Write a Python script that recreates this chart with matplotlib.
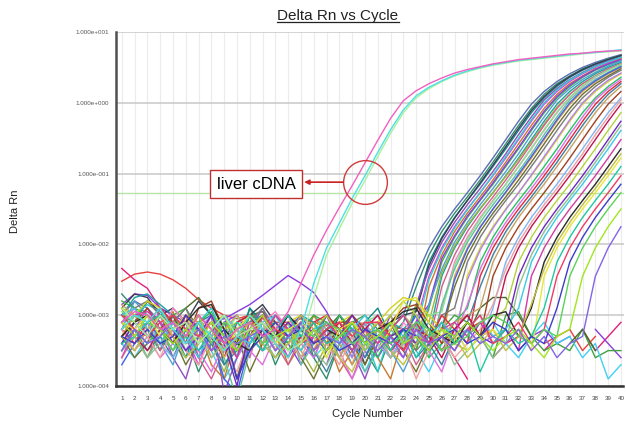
import numpy as np
import matplotlib.pyplot as plt
from matplotlib.lines import Line2D

plt.rcParams['font.family'] = ['Liberation Sans', 'DejaVu Sans']

nan = np.nan
cycles = list(range(1, 41))
y_ticks = [1e-4, 1e-3, 1e-2, 1e-1, 1e0, 1e1]
y_tick_labels = ['1.000e-004', '1.000e-003', '1.000e-002',
                 '1.000e-001', '1.000e+000', '1.000e+001']
threshold = 0.054

# log10(Delta Rn) per cycle
liver_log = [
    [-2.9, -3.1, -3.3, -3.0, -3.2, -3.1, -3.4, -3.2, -3.0, -3.3,
     -3.2, -3.1, -3.3, -3.5, -3.4, -2.75, -2.15, -1.78, -1.42, -1.1,
     -0.76, -0.43, -0.14, 0.07, 0.2, 0.3, 0.38, 0.44, 0.49, 0.53,
     0.56, 0.59, 0.61, 0.63, 0.65, 0.67, 0.69, 0.71, 0.72, 0.73],
    [-3.2, -3.0, -3.1, -2.9, -3.2, -3.4, -3.1, -3.3, -3.5, -3.3,
     -3.0, -3.2, -3.4, -3.6, -3.2, -2.55, -2.05, -1.7, -1.35, -1.03,
     -0.7, -0.38, -0.1, 0.1, 0.22, 0.31, 0.39, 0.45, 0.5, 0.54,
     0.57, 0.6, 0.62, 0.64, 0.66, 0.68, 0.7, 0.71, 0.73, 0.75],
    [-3.1, -2.95, -3.0, -3.2, -3.1, -3.3, -3.0, -3.2, -3.4, -3.2,
     -3.1, -3.3, -3.2, -2.95, -2.55, -2.15, -1.8, -1.48, -1.17, -0.85,
     -0.53, -0.22, 0.03, 0.17, 0.27, 0.35, 0.42, 0.47, 0.51, 0.55,
     0.58, 0.61, 0.63, 0.65, 0.67, 0.69, 0.7, 0.72, 0.73, 0.74],
]
liver_colors = ['#a8f0a0', '#50e0e0', '#f060c0']

sample_log = [
    [-3.0, -2.8, -2.9, -3.1, -3.3, -3.0, -3.2, -3.5, -3.3, -3.1,
     -3.0, -3.4, -3.2, -3.0, -3.3, -3.6, -3.2, -3.1, -3.4, -3.3,
     -3.5, -3.2, -3.0, -2.45, -2.05, -1.75, -1.5, -1.27, -1.03, -0.78,
     -0.52, -0.26, -0.02, 0.16, 0.3, 0.41, 0.5, 0.57, 0.63, 0.68],
    [-2.7, -2.9, -3.2, -3.5, -3.0, -3.3, -3.8, -3.4, -3.1, -3.6,
     -2.9, -3.2, -3.7, -3.3, -3.0, -3.6, -3.9, -3.4, -3.1, -3.5,
     -3.8, -3.3, -3.1, -2.6, -2.15, -1.82, -1.56, -1.33, -1.09, -0.84,
     -0.58, -0.32, -0.08, 0.12, 0.27, 0.38, 0.48, 0.55, 0.62, 0.67],
    [-3.4, -3.1, -2.8, -3.0, -3.2, -3.6, -3.1, -3.0, -3.7, -3.4,
     -2.9, -3.1, -3.5, -3.3, nan, -3.4, -3.0, -3.2, -3.6, -3.1,
     -2.9, -3.3, -3.5, -2.9, -2.25, -1.9, -1.62, -1.38, -1.15, -0.9,
     -0.65, -0.39, -0.14, 0.07, 0.23, 0.36, 0.46, 0.54, 0.6, 0.66],
    [-2.9, -2.7, -2.75, -3.0, -2.9, -3.1, -2.8, -3.0, -3.2, -3.4,
     -3.0, -2.85, -3.1, -3.3, -3.5, -3.2, -3.4, -3.0, -3.2, -3.7,
     -3.3, -3.1, -3.0, -2.95, -2.3, -1.92, -1.63, -1.38, -1.13, -0.88,
     -0.62, -0.36, -0.11, 0.09, 0.25, 0.37, 0.47, 0.55, 0.61, 0.67],
    [-3.5, -3.2, -2.9, -3.1, -3.6, -3.9, -3.3, -3.0, -4.1, -3.6,
     -3.2, -2.9, -3.3, -3.6, -3.3, nan, -3.7, -3.2, -3.5, -3.9,
     -3.4, -3.0, -3.4, -2.85, -2.35, -1.97, -1.69, -1.44, -1.21, -0.97,
     -0.72, -0.45, -0.2, 0.04, 0.2, 0.33, 0.43, 0.52, 0.59, 0.64],
    [-3.6, -3.2, -3.4, -2.9, -3.1, -3.3, -3.7, -3.2, -3.0, -3.5,
     -3.3, -3.0, -3.2, -3.6, -3.1, -3.3, nan, nan, -3.5, -3.2,
     -3.0, -3.4, -3.6, -3.1, -2.45, -2.05, -1.75, -1.5, -1.27, -1.03,
     -0.78, -0.52, -0.26, -0.02, 0.16, 0.3, 0.41, 0.5, 0.57, 0.63],
    [-3.1, -3.0, -2.85, -2.95, -3.2, -3.4, -3.1, -2.9, -3.3, -3.9,
     -3.2, -3.0, -3.3, -3.1, -3.4, -3.0, -3.2, -3.5, -3.1, -3.3,
     -3.8, -3.2, -3.0, -3.2, -2.5, -2.08, -1.77, -1.51, -1.27, -1.02,
     -0.76, -0.5, -0.24, 0.0, 0.18, 0.32, 0.42, 0.51, 0.58, 0.64],
    [-2.9, -3.3, -3.6, -3.2, -2.95, -3.4, -3.2, -3.7, -3.9, -3.3,
     -3.0, -3.5, -3.2, -3.7, -3.4, -3.0, -3.3, -3.8, -3.5, -3.2,
     -3.6, -3.9, -3.3, -3.5, -2.6, -2.15, -1.82, -1.56, -1.33, -1.09,
     -0.84, -0.58, -0.32, -0.08, 0.12, 0.27, 0.38, 0.48, 0.55, 0.62],
    [-2.8, -2.9, -3.0, -3.2, -3.0, -2.9, -3.3, -3.1, -3.5, -3.2,
     -3.0, -3.1, -3.4, -3.6, -3.2, -3.0, -3.1, -3.3, nan, -3.4,
     -3.1, -3.3, -3.2, -3.5, -2.9, -2.25, -1.9, -1.62, -1.38, -1.15,
     -0.9, -0.65, -0.39, -0.14, 0.07, 0.23, 0.36, 0.46, 0.54, 0.6],
    [-3.3, -3.5, -3.2, -3.0, -3.4, -3.1, -3.6, -3.3, -3.1, -3.0,
     -3.3, -3.5, -3.2, -3.4, -3.7, -3.3, -3.0, -3.4, -3.2, -3.1,
     -3.6, -3.3, -3.5, -3.1, -2.85, -2.2, -1.88, -1.6, -1.37, -1.13,
     -0.88, -0.63, -0.37, -0.12, 0.09, 0.25, 0.37, 0.47, 0.55, 0.61],
    [-3.2, -2.8, -3.0, -3.4, -3.7, -3.2, -3.0, -3.5, -3.3, -3.9,
     -3.4, -3.1, -3.5, -3.2, -3.6, -3.4, nan, -3.3, -3.7, -3.4,
     -3.1, -3.5, -3.8, -3.4, -2.85, -2.35, -1.97, -1.69, -1.44, -1.21,
     -0.97, -0.72, -0.45, -0.2, 0.04, 0.2, 0.33, 0.43, 0.52, 0.59],
    [-3.0, -2.75, -2.7, -2.85, -3.0, -3.2, -3.1, -3.3, -3.0, -3.2,
     -3.1, -3.0, -3.3, -3.2, -3.0, -3.1, -3.4, -3.2, -3.0, -3.3,
     -3.5, -3.1, -3.2, -3.0, -3.3, -2.45, -2.05, -1.75, -1.5, -1.27,
     -1.03, -0.78, -0.52, -0.26, -0.02, 0.16, 0.3, 0.41, 0.5, 0.57],
    [-3.5, -3.3, -3.0, -3.2, -3.5, -3.2, -3.0, -3.4, -3.8, -3.3,
     -3.1, -3.4, -3.0, -3.3, -3.5, -3.8, -3.4, -3.1, -3.3, -3.5,
     -3.2, -3.0, -3.4, -2.85, -3.1, -2.4, -2.02, -1.73, -1.49, -1.27,
     -1.04, -0.8, -0.55, -0.3, -0.06, 0.12, 0.27, 0.38, 0.47, 0.55],
    [-3.6, -3.3, -3.1, -3.5, -3.2, -3.0, -3.6, -3.9, -3.5, -3.2,
     -3.6, -3.0, -3.4, -3.7, -3.3, -3.5, -3.2, -3.6, -3.9, -3.4,
     -3.2, -3.5, -3.3, -3.7, -3.4, -2.6, -2.15, -1.82, -1.56, -1.33,
     -1.09, -0.84, -0.58, -0.32, -0.08, 0.12, 0.27, 0.38, 0.48, 0.55],
    [-3.2, -3.0, -3.1, -3.3, -2.9, -3.1, -3.4, -3.0, -3.2, -3.5,
     -3.2, -3.1, -2.95, -3.2, -3.4, -3.1, -3.5, -3.3, -3.0, -3.2,
     -3.4, -3.6, -3.1, -3.3, -3.5, -2.9, -2.25, -1.9, -1.62, -1.38,
     -1.15, -0.9, -0.65, -0.39, -0.14, 0.07, 0.23, 0.36, 0.46, 0.54],
    [-2.95, -3.1, -3.3, -3.1, -3.0, -3.5, -3.2, -3.1, -3.3, -3.0,
     -3.4, -3.3, -3.0, -3.2, -3.3, -3.1, -3.6, -3.2, -3.4, -3.1,
     -3.0, -3.3, -3.4, -3.2, -3.0, -2.95, -2.3, -1.93, -1.64, -1.39,
     -1.15, -0.9, -0.64, -0.38, -0.13, 0.08, 0.24, 0.37, 0.46, 0.54],
    [-3.0, -3.2, -3.6, -3.3, -3.5, -3.1, -3.3, -3.0, -3.6, -4.2,
     -3.5, -3.2, -3.4, -3.1, -3.7, -3.4, -3.2, -3.6, -3.3, -3.8,
     -3.5, -3.2, -3.4, -3.1, -3.6, -2.85, -2.35, -1.97, -1.69, -1.44,
     -1.21, -0.97, -0.72, -0.45, -0.2, 0.04, 0.2, 0.33, 0.43, 0.52],
    [-3.3, -3.0, -3.2, -3.4, -3.2, -3.0, -3.1, -3.6, -3.4, -3.1,
     -3.0, -3.2, -3.5, -3.1, -3.3, -3.5, -3.1, -3.4, -3.7, -3.2,
     -3.3, -3.1, -3.5, -3.3, -3.1, -3.4, -2.45, -2.05, -1.75, -1.5,
     -1.27, -1.03, -0.78, -0.52, -0.26, -0.02, 0.16, 0.3, 0.41, 0.5],
    [-3.7, -3.4, -3.1, -3.3, -3.0, -3.2, -3.5, -3.3, -3.9, -4.1,
     -3.4, -3.1, -3.3, -3.2, -3.0, -3.3, -3.5, -3.2, -3.4, -3.6,
     -3.2, -3.5, -3.3, -3.0, -3.4, -3.2, -2.5, -2.07, -1.76, -1.5,
     -1.26, -1.01, -0.76, -0.5, -0.24, 0.0, 0.18, 0.31, 0.42, 0.51],
    [-3.3, -3.6, -3.4, -3.0, -3.3, -3.7, -3.4, -3.2, -3.5, -3.3,
     -3.8, -3.4, -3.1, -3.3, -3.6, -3.9, -3.5, -3.2, -3.4, -3.7,
     -3.3, -3.1, -3.5, -3.8, -3.4, -3.2, -2.6, -2.15, -1.82, -1.56,
     -1.33, -1.09, -0.84, -0.58, -0.32, -0.08, 0.12, 0.27, 0.38, 0.48],
    [-3.1, -2.9, -2.8, -3.0, -3.1, -2.9, -3.2, -3.4, -3.1, -3.3,
     -3.1, -2.9, -3.2, -3.4, -3.1, -3.3, -3.0, -3.2, -3.5, -3.3,
     -3.1, -3.4, -3.2, -3.5, -3.3, -3.0, -2.9, -2.25, -1.9, -1.62,
     -1.38, -1.15, -0.9, -0.65, -0.39, -0.14, 0.07, 0.23, 0.36, 0.46],
    [-2.9, -3.0, -2.8, -2.9, -3.2, -3.0, -3.3, -3.1, -3.0, -3.4,
     -3.2, -3.0, -3.3, -3.1, -3.0, -3.2, -3.4, -3.1, -3.0, -3.3,
     -3.1, -2.9, -2.75, -2.8, -3.0, -3.2, -3.4, -2.45, -2.05, -1.75,
     -1.5, -1.27, -1.03, -0.78, -0.52, -0.26, -0.02, 0.16, 0.3, 0.41],
    [-3.4, -3.2, -3.0, -3.1, -3.3, -3.5, -3.2, -3.0, -3.3, -3.6,
     -3.3, -3.5, -3.2, -3.0, -3.3, -3.4, -3.1, -3.3, -3.6, -3.2,
     -3.3, -3.5, -3.2, -3.4, -3.3, -3.1, -3.3, -2.5, -2.08, -1.77,
     -1.51, -1.27, -1.02, -0.76, -0.5, -0.24, 0.0, 0.18, 0.32, 0.42],
    [-3.0, -3.2, -3.4, -3.2, -3.0, -3.3, -3.1, -2.95, -3.3, -3.5,
     -3.0, -3.2, -3.1, -3.4, -3.2, -3.5, -3.3, -3.0, -3.2, -3.4,
     -3.6, -3.2, -3.0, -3.3, -3.6, -3.4, -3.1, -2.9, -2.25, -1.9,
     -1.62, -1.38, -1.15, -0.9, -0.65, -0.39, -0.14, 0.07, 0.23, 0.36],
    [-3.1, -2.9, -3.3, -3.6, -3.4, -3.2, -3.5, -3.8, -3.4, -3.2,
     -3.5, -3.7, -3.3, -3.0, -3.4, -3.6, -3.2, -3.5, -3.9, -3.5,
     -3.3, -3.6, -3.4, -3.2, -3.5, -3.8, -3.3, -2.85, -2.35, -1.97,
     -1.69, -1.44, -1.21, -0.97, -0.72, -0.45, -0.2, 0.04, 0.2, 0.33],
    [-3.2, -3.4, -3.1, -2.9, -3.1, -3.3, -3.0, -3.2, -3.5, -3.3,
     -3.1, -3.3, -3.0, -3.2, -3.4, -3.1, -3.0, -3.2, -3.1, -3.3,
     -3.2, -3.5, -3.3, -3.1, -3.4, -3.0, -3.2, -3.4, -2.45, -2.05,
     -1.75, -1.5, -1.27, -1.03, -0.78, -0.52, -0.26, -0.02, 0.16, 0.3],
    [-3.4, -3.2, -3.5, -3.3, -3.6, -3.2, -3.0, -3.4, -3.7, -3.5,
     -3.2, -3.4, -3.6, -3.3, -3.1, -3.5, -3.8, -3.4, -3.2, -3.6,
     -3.3, -3.5, -3.2, -3.6, -3.4, -3.7, -3.3, -3.1, -2.6, -2.15,
     -1.82, -1.56, -1.33, -1.09, -0.84, -0.58, -0.32, -0.08, 0.12, 0.27],
    [-2.85, -3.0, -3.2, -3.0, -3.3, -3.1, -3.3, -3.5, -3.2, -3.0,
     -3.2, -3.4, -3.1, -3.3, -3.0, -3.2, -3.4, -3.6, -3.2, -3.1,
     -3.4, -3.2, -3.0, -3.2, -3.5, -3.3, -3.1, -3.0, -2.9, -2.25,
     -1.9, -1.62, -1.38, -1.15, -0.9, -0.65, -0.39, -0.14, 0.07, 0.23],
    [-3.3, -3.1, -2.9, -3.2, -3.0, -3.4, -2.9, -2.8, -3.2, -3.9,
     -3.3, -3.0, -3.2, -3.5, -3.3, -3.1, -3.4, -3.2, -3.0, -3.2,
     -3.3, -3.1, -2.9, -2.85, -3.1, -3.4, -3.2, -3.0, -3.3, -2.45,
     -2.05, -1.75, -1.5, -1.27, -1.03, -0.78, -0.52, -0.26, -0.02, 0.16],
    [-3.5, -3.3, -3.1, -3.4, -3.6, -3.3, -3.1, -3.3, -3.0, -3.2,
     -3.5, -3.2, -3.0, -3.3, -3.1, -3.4, -3.2, -3.5, -3.3, -3.1,
     -3.4, -3.6, -3.3, -3.2, -3.5, -3.1, -3.3, -3.2, -3.4, -2.9,
     -2.25, -1.9, -1.62, -1.38, -1.15, -0.9, -0.65, -0.39, -0.14, 0.07],
    [-3.2, -3.5, -3.3, -3.6, -3.2, -3.5, -3.7, -3.3, -3.5, -3.8,
     -3.3, -3.1, -3.5, -3.3, -3.6, -3.2, -3.4, -3.7, -3.3, -3.5,
     -3.2, -3.6, -3.4, -3.9, -3.5, -3.3, -3.6, -3.4, -3.2, -2.85,
     -2.35, -1.97, -1.69, -1.44, -1.21, -0.97, -0.72, -0.45, -0.2, 0.04],
    [-3.1, -3.3, -3.5, -3.2, -3.4, -3.0, -3.2, -3.3, -3.6, -3.1,
     -3.0, -3.3, -3.2, -3.0, -3.2, -3.5, -3.3, -3.1, -3.4, -3.2,
     -3.0, -3.3, -3.5, -3.2, -3.3, -3.6, -3.2, -3.0, -3.3, -3.2,
     -2.45, -2.05, -1.75, -1.5, -1.27, -1.03, -0.78, -0.52, -0.26, -0.02],
    [-2.9, -3.1, -3.0, -3.3, -3.1, -3.2, -3.0, -3.4, -3.2, -3.1,
     -3.3, -3.1, -3.4, -3.2, -3.5, -3.2, -3.0, -3.3, -3.2, -3.5,
     -3.2, -3.0, -2.8, -3.0, -3.3, -3.2, -3.4, -3.5, -3.3, -3.1,
     -2.9, -2.25, -1.9, -1.62, -1.38, -1.15, -0.9, -0.65, -0.39, -0.14],
    [-3.4, -3.1, -3.3, -3.0, -3.2, -3.5, -3.3, -3.0, -3.4, -4.0,
     -3.2, -3.0, -3.3, -3.1, -3.3, -3.2, -3.5, -3.3, -3.0, -3.3,
     -3.5, -3.3, -3.2, -3.4, -3.2, -3.5, -3.3, -3.1, -3.3, -3.4,
     -3.2, -2.45, -2.05, -1.75, -1.5, -1.27, -1.03, -0.78, -0.52, -0.26],
    [-3.5, -3.3, -3.6, -3.4, -3.1, -3.4, -3.3, -3.6, -3.4, -3.2,
     -3.5, -3.3, -3.6, -3.4, -3.2, -3.5, -3.7, -3.4, -3.2, -3.5,
     -3.3, -3.6, -3.4, -3.2, -3.5, -3.3, -3.7, -3.5, -3.3, -3.6,
     -3.4, -2.6, -2.15, -1.82, -1.56, -1.33, -1.09, -0.84, -0.58, -0.32],
    [-3.0, -2.9, -3.2, -3.4, -3.1, -3.3, -3.6, -3.2, -3.0, -3.3,
     -3.4, -3.1, -3.0, -3.3, -3.5, -3.2, -3.1, -3.4, -3.2, -3.0,
     -3.3, -3.1, -3.4, -3.3, -3.1, -3.3, -3.5, -3.2, -3.0, -3.3,
     -3.2, -2.9, -2.25, -1.9, -1.62, -1.38, -1.15, -0.9, -0.65, -0.39],
    [-3.2, -3.0, -2.95, -3.1, -3.3, -3.0, -3.2, -3.5, -3.3, -3.6,
     -3.1, -3.3, -3.0, -3.2, -3.4, -3.3, -3.1, -3.3, -3.5, -3.2,
     -3.4, -3.2, -3.0, -3.3, -3.4, -3.2, -3.1, -3.3, -3.1, -3.4,
     -3.2, -3.5, -2.45, -2.05, -1.75, -1.5, -1.27, -1.03, -0.78, -0.52],
    [-3.3, -3.1, -3.0, -3.2, -3.4, -3.1, -2.9, -2.85, -3.2, -3.4,
     -3.5, -3.2, -3.3, -3.0, -3.2, -3.4, -3.2, -3.3, -3.1, -3.4,
     -3.2, -3.1, -2.95, -2.9, -3.2, -3.3, -3.4, -3.1, -3.3, -3.0,
     -2.95, -3.3, -2.9, -2.25, -1.9, -1.62, -1.38, -1.15, -0.9, -0.65],
    [-3.3, -3.5, -3.2, -3.0, -3.3, -3.6, -3.4, -3.2, -3.6, -3.3,
     -3.1, -3.4, -3.6, -3.4, -3.2, -3.5, -3.3, -3.6, -3.8, -3.4,
     -3.2, -3.5, -3.7, -3.4, -3.2, -3.5, -3.3, -3.6, -3.4, -3.2,
     -3.5, -3.3, -2.85, -2.35, -1.97, -1.69, -1.44, -1.21, -0.97, -0.72],
    [-3.1, -3.2, -3.0, -3.3, -3.1, -3.4, -3.2, -3.3, -3.5, -3.2,
     -3.0, -3.2, -3.4, -3.2, -3.1, -3.3, -3.6, -3.2, -3.1, -3.3,
     -3.5, -3.2, -2.8, -2.75, -3.1, -3.3, -3.2, -3.5, -3.3, -3.2,
     -3.4, -3.2, -3.5, -2.45, -2.05, -1.75, -1.5, -1.27, -1.03, -0.78],
    [-3.4, -3.3, -3.1, -3.0, -3.2, -3.3, -3.5, -3.2, -3.4, -3.1,
     -3.3, -3.5, -3.2, -3.0, -3.3, -3.1, -3.4, -3.3, -3.2, -3.4,
     -3.3, -3.5, -3.2, -3.6, -3.3, -3.1, -3.4, -3.2, -3.8, -3.4,
     -3.2, -3.4, -3.3, -2.9, -2.25, -1.9, -1.62, -1.38, -1.15, -0.9],
    [-3.0, -3.2, -3.3, -3.1, -3.0, -3.2, -3.3, -3.1, -3.4, -3.3,
     -3.2, -3.0, -3.2, -3.3, -3.1, -3.4, -3.2, -3.1, -3.3, -3.1,
     -3.1, -3.3, -3.5, -3.2, -3.4, -3.3, -3.5, -3.2, -3.0, -3.4,
     -3.3, -3.1, -3.4, -3.2, -2.45, -2.05, -1.75, -1.5, -1.27, -1.03],
    [-3.3, -3.4, -3.2, -3.4, -3.3, -3.0, -3.2, -3.4, -3.2, -3.9,
     -3.5, -3.3, -3.1, -3.3, -3.2, -3.4, -3.3, -3.5, -3.4, -3.2,
     -3.3, -3.4, -3.2, -3.3, -3.5, -3.3, -3.2, -3.4, -3.3, -3.1,
     -3.2, -3.5, -3.3, -3.4, -2.9, -2.25, -1.9, -1.62, -1.38, -1.15],
    [-3.2, -3.0, -3.1, -3.2, -3.5, -3.3, -3.1, -3.4, -3.1, -3.2,
     -3.1, -3.4, -3.3, -3.5, -3.2, -3.3, -3.1, -3.2, -3.4, -3.3,
     -3.2, -3.4, -3.3, -3.1, -3.2, -3.5, -3.4, -3.3, -3.1, -3.0,
     -3.1, -3.3, -3.4, -3.2, -3.3, -2.45, -2.05, -1.75, -1.5, -1.27],
    [-3.1, -3.3, -3.0, -3.2, -3.4, -3.2, -3.4, -3.1, -3.3, -3.5,
     -3.2, -3.0, -3.3, -3.2, -3.4, -3.2, -3.5, -3.3, -3.1, -3.4,
     -3.3, -3.1, -3.4, -3.3, -3.5, -3.2, -3.3, -3.1, -3.3, -3.5,
     -3.3, -3.2, -3.4, -3.6, -3.3, -3.2, -2.45, -2.05, -1.75, -1.5],
    [-3.5, -3.2, -3.4, -3.3, -3.1, -3.4, -3.2, -3.5, -3.3, -3.4,
     -3.3, -3.2, -3.5, -3.3, -3.1, -3.5, -3.3, -3.4, -3.2, -3.3,
     -3.5, -3.3, -3.6, -3.2, -3.4, -3.3, -3.5, -3.2, -3.4, -3.3,
     -3.4, -3.2, -3.5, -3.3, -3.6, -3.4, -3.3, -2.45, -2.05, -1.75],
]
sample_colors = ['#5a6eb4', '#2f8f6f', '#108a8a', '#3c3c50', '#9050c0',
                 '#e040e0', '#30d0d0', '#c87830', '#3cb43c', '#8c3ce6',
                 '#50a0d0', '#1ea0a0', '#a0b43c', '#d06090', '#ff82c8',
                 '#82e68c', '#60c0a0', '#e6963c', '#3c64e6', '#707030',
                 '#7a7a7a', '#d2d21e', '#b482f0', '#28c064', '#e070e0',
                 '#e02840', '#4080a0', '#c8a064', '#a04020', '#82b4f0',
                 '#f0a0a0', '#c01450', '#b4d23c', '#6e28c0', '#90c090',
                 '#3cc8e6', '#d23ca0', '#2a2a2a', '#c0c040', '#e6e63c',
                 '#1ec8a0', '#f03c64', '#3c3cc8', '#5ad25a', '#a0e61e',
                 '#8264e6']

# wells that never amplify
control_log = [
    [-2.52, -2.42, -2.39, -2.42, -2.5, -2.62, -2.78, -2.9, -3.0, -3.05,
     -3.0, -3.05, -3.1, -3.1, -3.05, -3.1, -3.15, -3.1, -3.1, -3.12,
     -3.1, -3.15, -3.2, -3.15, nan, nan, -3.4, -3.2, -3.1, -3.3,
     -3.2, nan, nan, -3.4, -3.3, -3.2, -3.5, -3.3, nan, nan],
    [-2.34, -2.5, -2.62, -2.9, -3.0, -3.2, -3.1, -3.3, -3.0, -3.2,
     -3.4, -3.2, -3.5, -3.3, -3.6, -3.4, -3.2, nan, nan, -3.5,
     -3.3, -3.6, nan, nan, -3.5, -3.3, -3.6, -3.9, nan, -3.6,
     -3.4, -3.3, nan, -3.5, -3.3, nan, -3.2, -3.5, -3.3, -3.1],
    [-2.85, -2.7, -2.72, -2.9, -3.0, -3.1, -3.2, -3.1, -3.05, -2.95,
     -2.85, -2.72, -2.58, -2.44, -2.55, -2.68, -2.95, -3.3, -3.5, -3.3,
     -3.2, -3.4, nan, nan, -3.3, -3.5, -3.2, -3.4, -3.1, -3.3,
     nan, -3.5, -3.3, -3.2, -3.4, -3.3, nan, -3.2, -3.4, -3.6],
    [-3.3, -3.0, -3.2, -3.5, -3.1, -3.3, -3.6, -3.2, -3.4, -3.1,
     -3.0, -3.3, -3.2, -3.4, -3.1, -3.3, -3.0, -3.2, -3.1, -3.0,
     -3.2, -3.5, -3.3, -3.1, -3.4, -3.2, -3.0, -3.1, -3.3, -3.6,
     -3.0, -2.95, -3.3, -3.5, -3.4, -3.5, -3.2, -3.6, -3.5, -3.5],
    [-3.4, -3.6, -3.3, -3.1, -3.4, -3.6, -3.3, -3.5, -3.9, -3.6,
     -3.3, -3.5, -3.4, -3.1, -3.3, -3.6, -3.4, -3.2, -3.5, -3.8,
     -3.4, -3.1, -3.3, -3.5, -3.8, -3.4, -3.2, -3.5, -3.3, -3.1,
     -3.4, -3.6, -3.3, -3.1, -3.4, -3.3, -3.6, -3.4, -3.9, -3.7],
    [-3.0, -3.1, -2.8, -2.95, -3.1, -2.9, -2.75, -3.0, -3.3, -3.5,
     -3.0, -2.95, -3.2, -3.3, -3.1, -3.4, -3.2, -3.0, -3.3, -3.5,
     nan, nan, -3.3, -3.4, -3.2, -3.5, nan, -3.3, -2.9, -2.75,
     -2.75, -3.0, -3.3, nan, nan, -3.4, -3.2, -3.5, nan, nan],
]
control_colors = ['#e84040', '#e0207a', '#8a3cdc', '#40a040', '#40d0f0', '#4a6a2a']

fig = plt.figure(figsize=(6.26, 4.25), dpi=100)
ax = fig.add_axes([116 / 626, 39 / 425, 507.5 / 626, 354 / 425])

for vals, c in zip(control_log, control_colors):
    ax.plot(cycles, 10.0 ** np.array(vals), color=c, lw=1.0, zorder=3)
for vals, c in zip(sample_log, sample_colors):
    ax.plot(cycles, 10.0 ** np.array(vals), color=c, lw=1.0, zorder=3)
for vals, c in zip(liver_log, liver_colors):
    ax.plot(cycles, 10.0 ** np.array(vals), color=c, lw=1.0, zorder=3)

ax.axhline(threshold, color='#b8e4a8', lw=1.0, zorder=2)

ax.set_yscale('log')
ax.set_ylim(1e-4, 1e1)
ax.set_xlim(0.55, 40.2)
ax.set_yticks(y_ticks)
ax.set_yticklabels(y_tick_labels, fontsize=4.5, color='#555555')
ax.yaxis.set_minor_locator(plt.NullLocator())
ax.set_xticks(cycles)
ax.set_xticklabels([str(c) for c in cycles], fontsize=4.5, color='#444444')
ax.tick_params(axis='both', length=0)
ax.tick_params(axis='x', pad=7)
ax.tick_params(axis='y', pad=5)

ax.grid(axis='x', color='#ececec', lw=0.8, zorder=0)
ax.grid(axis='y', color='#c8c8c8', lw=1.1, zorder=1)
ax.set_axisbelow(True)
for side in ['top', 'right']:
    ax.spines[side].set_visible(False)
ax.spines['left'].set_color('#505050')
ax.spines['left'].set_linewidth(1.8)
ax.spines['bottom'].set_color('#333333')
ax.spines['bottom'].set_linewidth(1.8)

# annotation: circle, arrow and label box
ax.plot([20.0], [0.077], marker='o', ms=31.5, mfc='none', mec='#d03a3a',
        mew=1.0, zorder=6)
ax.annotate('', xy=(15.25, 0.0757), xytext=(18.3, 0.0757),
            arrowprops=dict(arrowstyle='-|>', color='#cc2020', lw=1.2,
                            mutation_scale=7, shrinkA=0, shrinkB=0),
            zorder=6)
ax.text(11.5, 0.0711, 'liver cDNA', ha='center', va='center', fontsize=12,
        color='black', zorder=7,
        bbox=dict(boxstyle='square,pad=0.4', fc='white', ec='#c03030', lw=1.0))

title = fig.text(338 / 626, 1 - 16 / 425, 'Delta Rn vs Cycle', ha='center',
                 va='center', fontsize=11, color='#222222')
fig.text(15 / 626, 1 - 211 / 425, 'Delta Rn', rotation=90, ha='center',
         va='center', fontsize=8, color='#222222')
fig.text(368 / 626, 1 - 414 / 425, 'Cycle Number', ha='center', va='center',
         fontsize=8, color='#222222')

# underline the title
fig.canvas.draw()
bb = title.get_window_extent().transformed(fig.transFigure.inverted())
fig.add_artist(Line2D([bb.x0, bb.x1], [bb.y0 + 0.002, bb.y0 + 0.002],
                      color='#222222', lw=0.9, transform=fig.transFigure))

fig.savefig('out.png', dpi=100)
